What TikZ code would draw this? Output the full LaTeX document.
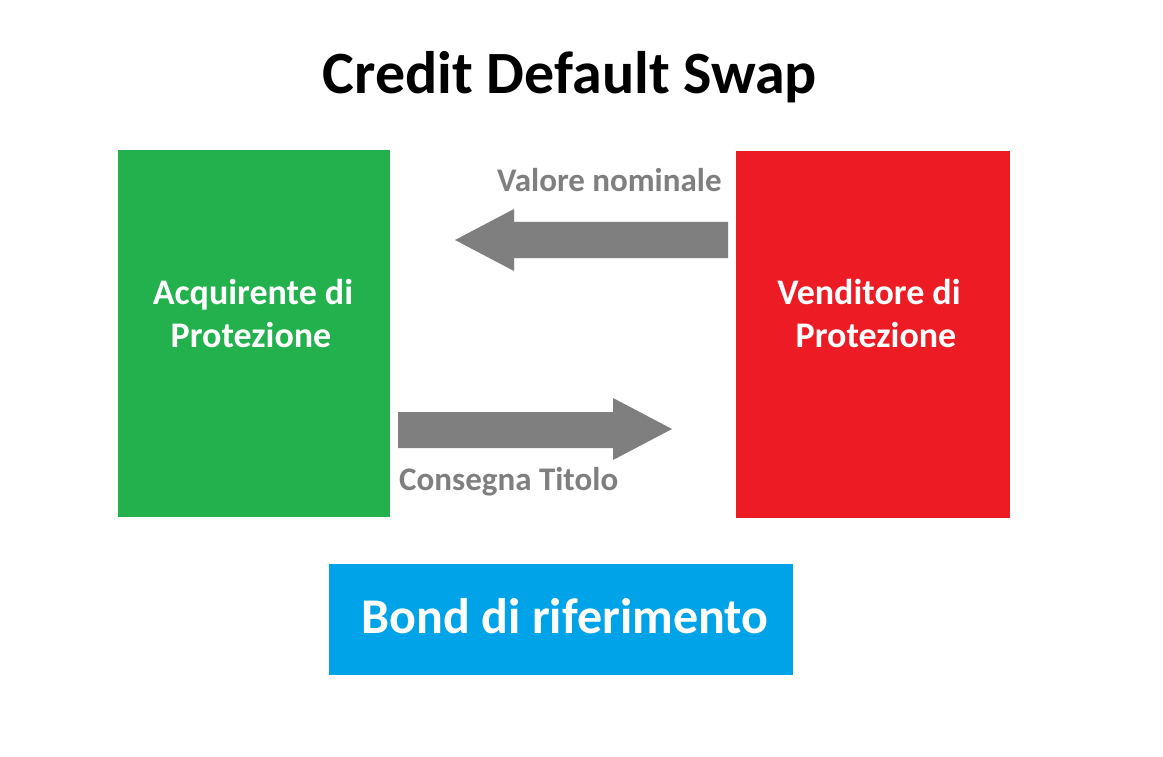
\documentclass[tikz,border=0pt]{standalone}
\usepackage{fontspec}
\setmainfont{Carlito}
\definecolor{cgreen}{HTML}{22B14C}
\definecolor{cred}{HTML}{ED1C24}
\definecolor{cblue}{HTML}{00A2E8}
\definecolor{cgray}{HTML}{7F7F7F}
\begin{document}
\begin{tikzpicture}[x=1pt,y=-1pt,
  boxtext/.style={text=white, font=\bfseries\fontsize{36}{43}\selectfont, anchor=base, inner sep=0pt},
  lbl/.style={text=cgray, font=\bfseries\fontsize{33}{38}\selectfont, anchor=base west, inner sep=0pt},
  blockarrow/.style={fill=cgray, draw=none}]
\useasboundingbox (0,0) rectangle (1163,757);
\fill[white] (0,0) rectangle (1163,757);
% boxes
\fill[cgreen] (118,150) rectangle (390,517);
\fill[cred] (736,151) rectangle (1010,518);
\fill[cblue] (329,564) rectangle (793,675);
\node[boxtext] (acq1) at (253,304) {Acquirente di};
\node[boxtext] (acq2) at (251,347) {Protezione};
\node[boxtext] (ven1) at (869,304) {Venditore di};
\node[boxtext] (ven2) at (876,347) {Protezione};
\node[text=white, font=\bfseries\fontsize{50}{58}\selectfont, anchor=base, inner sep=0pt] (bond) at (565,633) {Bond di riferimento};
% title
\node[font=\bfseries\fontsize{60}{70}\selectfont, anchor=base, inner sep=0pt] (title) at (570,94) {Credit Default Swap};
% arrows
\fill[blockarrow] (728,222) -- (514,222) -- (514,209) -- (455,240) -- (514,271) -- (514,258) -- (728,258) -- cycle;
\fill[blockarrow] (398,412) -- (613,412) -- (613,398) -- (672,429) -- (613,460) -- (613,448) -- (398,448) -- cycle;
% labels
\node[lbl] (vn) at (497,192) {Valore nominale};
\node[lbl] (ct) at (399,490) {Consegna Titolo};
\end{tikzpicture}
\end{document}
